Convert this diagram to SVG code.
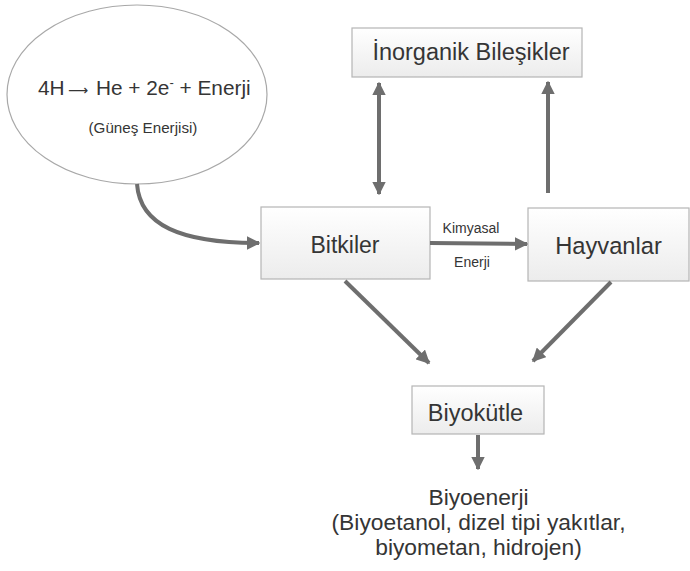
<svg xmlns="http://www.w3.org/2000/svg" width="690" height="571" viewBox="0 0 690 571">
  <defs>
    <linearGradient id="boxFill" x1="0" y1="0" x2="0" y2="1">
      <stop offset="0" stop-color="#ffffff"/>
      <stop offset="1" stop-color="#ececec"/>
    </linearGradient>
    <marker id="head" viewBox="0 0 10 10" refX="9" refY="5" markerWidth="3.4" markerHeight="3.4" orient="auto-start-reverse" markerUnits="strokeWidth">
      <path d="M0,0 L10,5 L0,10 z" fill="#6e6e6e"/>
    </marker>
  </defs>
  <style>
    .box { fill: url(#boxFill); stroke: #b5b5b5; stroke-width: 1.2; }
    .lbl { font-family: "Liberation Sans", Arial, sans-serif; fill: #353535; text-anchor: middle; }
    .eq { font-family: "Liberation Sans", Arial, sans-serif; fill: #353535; text-anchor: start; }
    .conn { fill: none; stroke: #6e6e6e; stroke-width: 4; }
  </style>
  <rect width="690" height="571" fill="#ffffff"/>

  <g id="gunes">
    <ellipse cx="137" cy="94.5" rx="130" ry="89.5" fill="#ffffff" stroke="#a8a8a8" stroke-width="1.2"/>
    <text class="eq" x="38" y="95" font-size="20.8">4H<tspan x="68" font-family="DejaVu Sans, sans-serif" font-size="14" dy="0">⟶</tspan><tspan x="96">He + 2e</tspan><tspan font-size="13" dy="-8">-</tspan><tspan dy="8"> + Enerji</tspan></text>
    <text class="lbl" x="143" y="133" font-size="15.2">(Güneş Enerjisi)</text>
  </g>

  <g id="inorganik">
    <rect class="box" x="352" y="28" width="230" height="49"/>
    <text class="lbl" x="471" y="60" font-size="23.5">İnorganik Bileşikler</text>
  </g>

  <g id="bitkiler">
    <rect class="box" x="261" y="207" width="169" height="72"/>
    <text class="lbl" x="345" y="253" font-size="23">Bitkiler</text>
  </g>

  <g id="hayvanlar">
    <rect class="box" x="528" y="208" width="161" height="73"/>
    <text class="lbl" x="608.5" y="254" font-size="23.7">Hayvanlar</text>
  </g>

  <g id="biyokutle">
    <rect class="box" x="412" y="386" width="132" height="48"/>
    <text class="lbl" x="475.5" y="421" font-size="23.5">Biyokütle</text>
  </g>

  <g id="biyoenerji">
    <text class="lbl" x="478.5" y="505" font-size="22.8">Biyoenerji</text>
    <text class="lbl" x="478.5" y="530" font-size="22.8">(Biyoetanol, dizel tipi yakıtlar,</text>
    <text class="lbl" x="478.5" y="555" font-size="22.8">biyometan, hidrojen)</text>
  </g>

  <g id="connectors">
    <path class="conn" d="M137,184 C140,225 180,243 259,243" marker-end="url(#head)"/>
    <path class="conn" d="M379,83 L379,194" marker-start="url(#head)" marker-end="url(#head)"/>
    <path class="conn" d="M548,193 L548,82" marker-end="url(#head)"/>
    <path class="conn" d="M430,243 L527,244" marker-end="url(#head)"/>
    <path class="conn" d="M345,281 L429,363" marker-end="url(#head)"/>
    <path class="conn" d="M611,282 L533,361" marker-end="url(#head)"/>
    <path class="conn" d="M478,435 L478,469" marker-end="url(#head)"/>
    <text class="lbl" x="471" y="233" font-size="14">Kimyasal</text>
    <text class="lbl" x="472" y="267" font-size="14">Enerji</text>
  </g>
</svg>
